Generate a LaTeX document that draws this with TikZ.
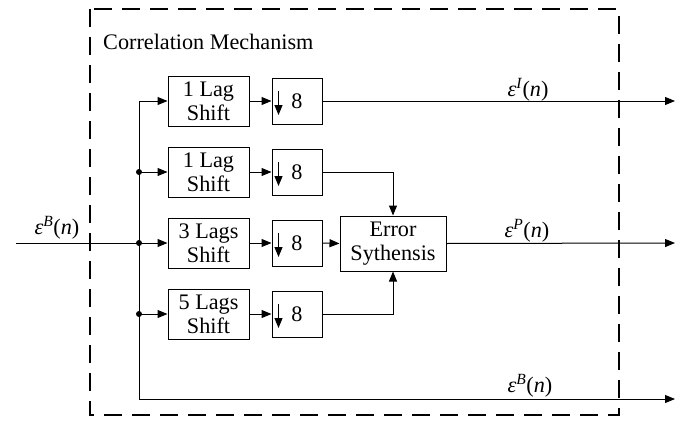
\documentclass[tikz,border=0pt]{standalone}
\usepackage{fontspec}
\setmainfont{Liberation Serif}
\usetikzlibrary{arrows.meta}
\newcommand\epsl[1]{\textit{ε}\textsuperscript{\textit{#1}}(\textit{n})}
\begin{document}
\begin{tikzpicture}[x=1pt,y=-1pt,
  blk/.style={draw,line width=1pt,inner sep=0pt,align=center,font=\fontsize{22.2}{24}\selectfont},
  lagbox/.style={blk,minimum width=81pt,minimum height=50pt},
  dnbox/.style={blk,minimum width=50pt,minimum height=46pt},
  conn/.style={line width=1pt},
  arr/.style={line width=1pt,-{Triangle[length=10pt,width=8pt]}},
  lbl/.style={font=\fontsize{22.2}{24}\selectfont,inner sep=0pt},
  jdot/.style={circle,fill,inner sep=0pt,minimum size=6pt}]
\useasboundingbox (0,0) rectangle (682,420);
% dashed frame
\draw[line width=1.6pt,dash pattern=on 18pt off 10pt] (90,9) rectangle (619,415);
\node[lbl,anchor=base west] (title) at (103,49) {Correlation Mechanism};
% blocks
\node[lagbox] (lag1) at (208.5,101) {1 Lag\\Shift};
\node[lagbox] (lag2) at (208.5,172) {1 Lag\\Shift};
\node[lagbox] (lag3) at (208.5,243) {3 Lags\\Shift};
\node[lagbox] (lag4) at (208.5,314) {5 Lags\\Shift};
\foreach \i/\y in {1/101,2/172,3/243,4/314}{
  \node[dnbox] (d\i) at (297,\y) {8};
  \draw[arr] ([shift={(7,-10)}]d\i.west) -- ([shift={(7,14)}]d\i.west);
}
\node[blk,minimum width=106pt,minimum height=55pt] (err) at (393,243.5) {Error\\Sythensis};
% coordinates
\coordinate (in) at (16,243);
\coordinate (bt) at (139,101);
\coordinate (bb) at (139,399);
\node[jdot] (j2) at (139,172) {};
\node[jdot] (j3) at (139,243) {};
\node[jdot] (j4) at (139,314) {};
\coordinate (oI) at (675,101);
\coordinate (oP) at (675,243);
\coordinate (oB) at (675,399);
% connectors
\draw[conn] (in) -- (j3.center);
\draw[conn] (bt) -- (bb);
\draw[arr] (bt) -- (lag1.west);
\draw[arr] (j2.center) -- (lag2.west);
\draw[arr] (j3.center) -- (lag3.west);
\draw[arr] (j4.center) -- (lag4.west);
\draw[arr] (bb) -- (oB);
\foreach \i in {1,2,3,4}{ \draw[arr] (lag\i.east) -- (d\i.west); }
\draw[arr] (d1.east) -- (oI);
\draw[arr] (d2.east) -| (err.north);
\draw[arr] (d3.east) -- (err.west);
\draw[arr] (d4.east) -| (err.south);
\draw[arr] (err.east) -- (oP);
% labels
\node[lbl,anchor=base] (lin) at (57,234) {\epsl{B}};
\node[lbl,anchor=base] (lI) at (528,96) {\epsl{I}};
\node[lbl,anchor=base] (lP) at (527,237) {\epsl{P}};
\node[lbl,anchor=base] (lB) at (530,392) {\epsl{B}};
\end{tikzpicture}
\end{document}
